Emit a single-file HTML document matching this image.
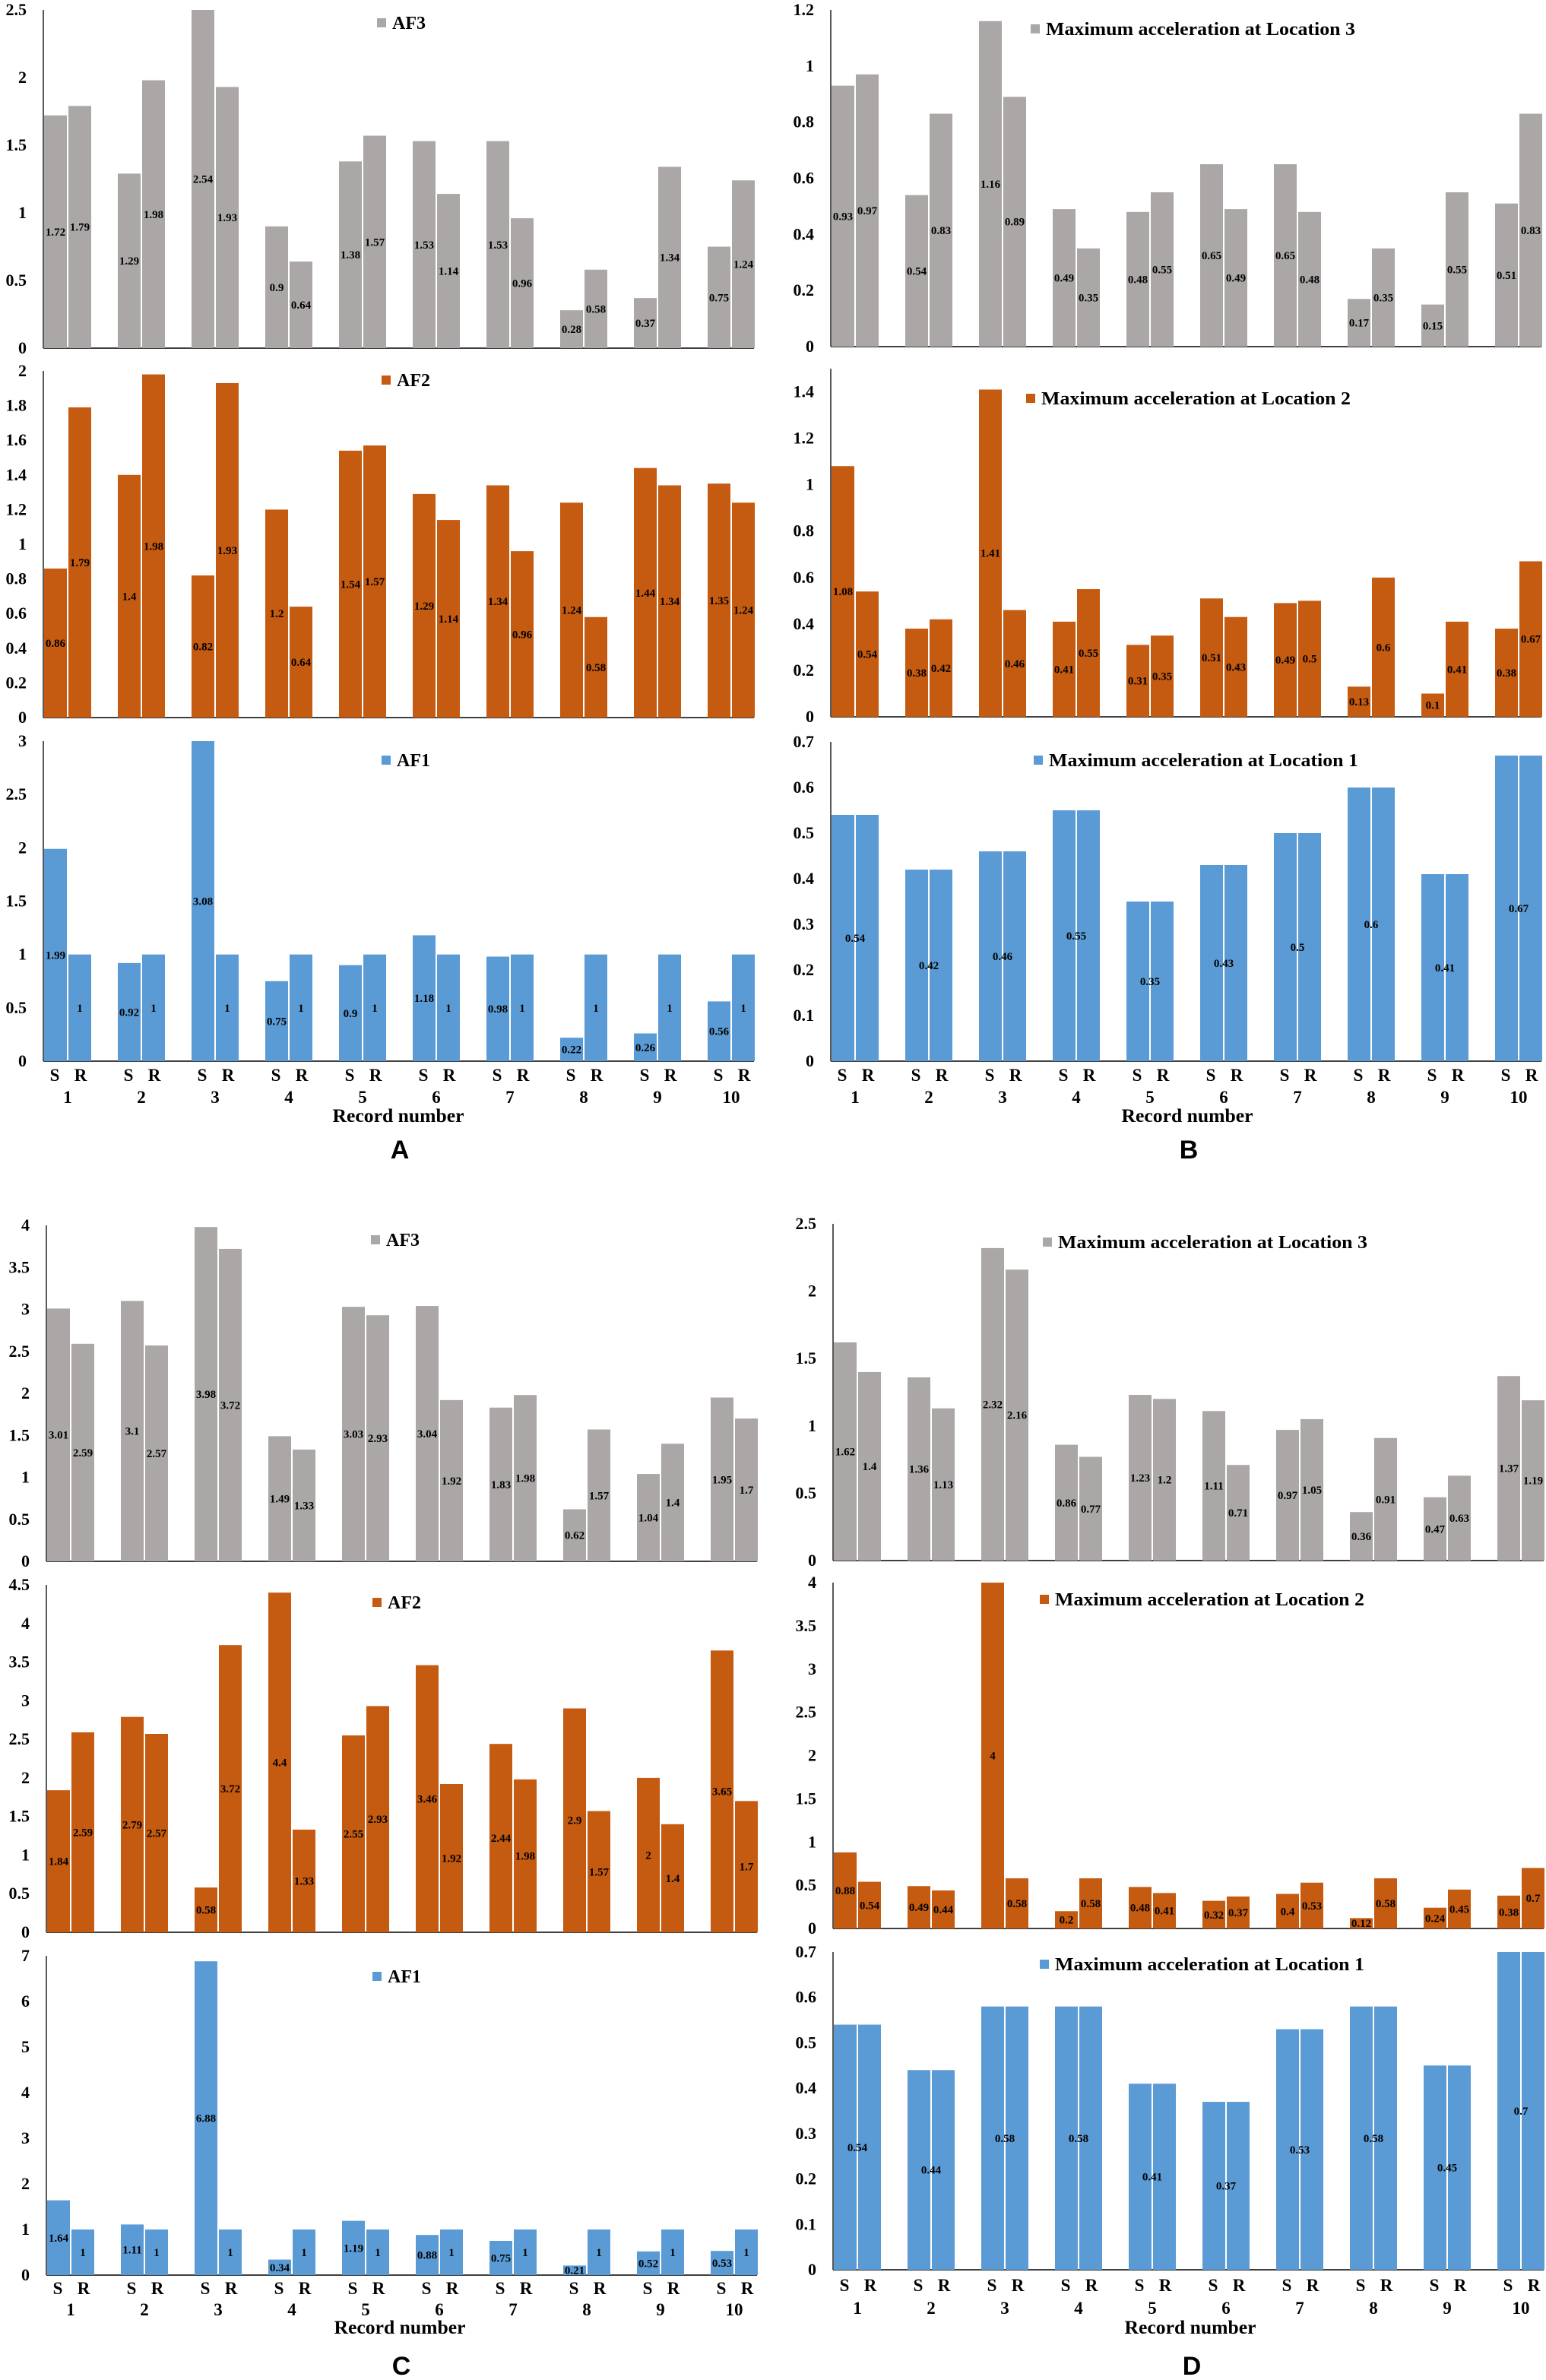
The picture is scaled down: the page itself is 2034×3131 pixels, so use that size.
<!DOCTYPE html>
<html><head><meta charset="utf-8"><style>
html,body{margin:0;padding:0;background:#fff}
svg{display:block}
text{font-family:"Liberation Serif",serif;font-weight:bold;fill:#000}
</style></head><body>
<svg id="fig" width="2034" height="3131" viewBox="0 0 2034 3131" xmlns="http://www.w3.org/2000/svg"></svg>
<script>
// ---- data ----
const categories = ["1","2","3","4","5","6","7","8","9","10"];
const A_AF3_S = [1.72,1.29,2.54,0.9,1.38,1.53,1.53,0.28,0.37,0.75];
const A_AF3_R = [1.79,1.98,1.93,0.64,1.57,1.14,0.96,0.58,1.34,1.24];
const A_AF2_S = [0.86,1.4,0.82,1.2,1.54,1.29,1.34,1.24,1.44,1.35];
const A_AF2_R = [1.79,1.98,1.93,0.64,1.57,1.14,0.96,0.58,1.34,1.24];
const A_AF1_S = [1.99,0.92,3.08,0.75,0.9,1.18,0.98,0.22,0.26,0.56];
const A_AF1_R = [1,1,1,1,1,1,1,1,1,1];
const B_L3_S = [0.93,0.54,1.16,0.49,0.48,0.65,0.65,0.17,0.15,0.51];
const B_L3_R = [0.97,0.83,0.89,0.35,0.55,0.49,0.48,0.35,0.55,0.83];
const B_L2_S = [1.08,0.38,1.41,0.41,0.31,0.51,0.49,0.13,0.1,0.38];
const B_L2_R = [0.54,0.42,0.46,0.55,0.35,0.43,0.5,0.6,0.41,0.67];
const B_L1 = [0.54,0.42,0.46,0.55,0.35,0.43,0.5,0.6,0.41,0.67];
const C_AF3_S = [3.01,3.1,3.98,1.49,3.03,3.04,1.83,0.62,1.04,1.95];
const C_AF3_R = [2.59,2.57,3.72,1.33,2.93,1.92,1.98,1.57,1.4,1.7];
const C_AF2_S = [1.84,2.79,0.58,4.4,2.55,3.46,2.44,2.9,2,3.65];
const C_AF2_R = [2.59,2.57,3.72,1.33,2.93,1.92,1.98,1.57,1.4,1.7];
const C_AF1_S = [1.64,1.11,6.88,0.34,1.19,0.88,0.75,0.21,0.52,0.53];
const C_AF1_R = [1,1,1,1,1,1,1,1,1,1];
const D_L3_S = [1.62,1.36,2.32,0.86,1.23,1.11,0.97,0.36,0.47,1.37];
const D_L3_R = [1.4,1.13,2.16,0.77,1.2,0.71,1.05,0.91,0.63,1.19];
const D_L2_S = [0.88,0.49,4,0.2,0.48,0.32,0.4,0.12,0.24,0.38];
const D_L2_R = [0.54,0.44,0.58,0.58,0.41,0.37,0.53,0.58,0.45,0.7];
const D_L1 = [0.54,0.44,0.58,0.58,0.41,0.37,0.53,0.58,0.45,0.7];
const ticks_0_25_05 = ["0","0.5","1","1.5","2","2.5"];
const ticks_0_2_02 = ["0","0.2","0.4","0.6","0.8","1","1.2","1.4","1.6","1.8","2"];
const ticks_0_3_05 = ["0","0.5","1","1.5","2","2.5","3"];
const ticks_0_12_02 = ["0","0.2","0.4","0.6","0.8","1","1.2"];
const ticks_0_14_02 = ["0","0.2","0.4","0.6","0.8","1","1.2","1.4"];
const ticks_0_07_01 = ["0","0.1","0.2","0.3","0.4","0.5","0.6","0.7"];
const ticks_0_4_05 = ["0","0.5","1","1.5","2","2.5","3","3.5","4"];
const ticks_0_45_05 = ["0","0.5","1","1.5","2","2.5","3","3.5","4","4.5"];
const ticks_0_7_1 = ["0","1","2","3","4","5","6","7"];

const GRAY="#aaa7a6", ORANGE="#c55a11", BLUE="#5b9bd5";
const NS="http://www.w3.org/2000/svg";
const svg=document.getElementById('fig');
function mk(tag,attrs,parent){const e=document.createElementNS(NS,tag);for(const k in attrs)e.setAttribute(k,attrs[k]);(parent||svg).appendChild(e);return e;}

function subplot(cfg){
  const g=mk('g',{});
  
  
  const x0=cfg.x0, pitch=97, bw=30, gap=2;
  const yS=v=>cfg.y0-(Math.min(v,cfg.max)/cfg.max)*(cfg.y0-cfg.yTop);
  const ya=mk('line',{x1:x0,y1:cfg.yAxisTop||cfg.yTop,x2:x0,y2:cfg.y0,stroke:"#595959","stroke-width":2},g);
  
  
  const xa=mk('line',{x1:x0,y1:cfg.y0,x2:x0+62+9*pitch,y2:cfg.y0,stroke:"#404040","stroke-width":2},g);
  
  
  const tmax=cfg.tickMax;
  cfg.ticks.forEach((t,i)=>{
    const v=tmax*i/(cfg.ticks.length-1);
    const tt=mk('text',{x:x0-22,y:yS(v)+7,"text-anchor":"end","font-size":22},g);
    tt.textContent=t;
    
    
  });
  categories.forEach((c,i)=>{
    const gx=x0+1+i*pitch;
    if(cfg.single){
      const v=cfg.single[i];
      [0,1].forEach(k=>{
        const r=mk('rect',{x:gx+k*(bw+gap),y:yS(v),width:bw,height:cfg.y0-yS(v),fill:cfg.color},g);
        
        
      });
      const lt=mk('text',{x:gx+bw+1,y:(yS(v)+cfg.y0)/2+5,"text-anchor":"middle","font-size":15},g);
      lt.textContent=String(v);
      
      
    } else {
      [cfg.s[i],cfg.r[i]].forEach((v,k)=>{
        const bx=gx+k*(bw+gap);
        const r=mk('rect',{x:bx,y:yS(v),width:bw,height:cfg.y0-yS(v),fill:cfg.color},g);
        
        
        const lt=mk('text',{x:bx+bw/2,y:(yS(v)+cfg.y0)/2+5,"text-anchor":"middle","font-size":15},g);
        lt.textContent=String(v);
        
        
      });
    }
  });
  const ls=mk('rect',{x:cfg.lx,y:cfg.ly-6,width:12,height:12,fill:cfg.color},g);
  
  
  const lt=mk('text',{x:cfg.lx+20,y:cfg.ly+8,"font-size":24},g);
  if(cfg.lw){ lt.setAttribute('textLength',cfg.lw); lt.setAttribute('lengthAdjust','spacingAndGlyphs'); }
  lt.textContent=cfg.label;
  
  
}
function xlabels(x0,yS,yN,yT,yL,letter,lx){
  categories.forEach((c,i)=>{
    const gx=x0+1+i*97;
    const s=mk('text',{x:gx+14,y:yS,"text-anchor":"middle","font-size":23});s.textContent="S";
    
    
    const r=mk('text',{x:gx+48,y:yS,"text-anchor":"middle","font-size":23});r.textContent="R";
    
    
    const n=mk('text',{x:gx+31,y:yN,"text-anchor":"middle","font-size":23});n.textContent=c;
    
    
  });
  const t=mk('text',{x:lx,y:yT,"text-anchor":"middle","font-size":25,textLength:173,lengthAdjust:"spacingAndGlyphs"});t.textContent="Record number";
  
  
  const L=mk('text',{x:lx+2,y:yL,"text-anchor":"middle","font-size":34,style:"font-family:'Liberation Sans',sans-serif"});L.textContent=letter;
  
  
}
// Panel A
subplot({name:'a-af3-chart',x0:57,yTop:13,y0:458,max:2.5,tickMax:2.5,ticks:ticks_0_25_05,color:GRAY,s:A_AF3_S,r:A_AF3_R,lx:496,ly:30,label:"AF3"});
subplot({name:'a-af2-chart',x0:57,yTop:488,y0:944,max:2,tickMax:2,ticks:ticks_0_2_02,color:ORANGE,s:A_AF2_S,r:A_AF2_R,lx:502,ly:500,label:"AF2"});
subplot({name:'a-af1-chart',x0:57,yTop:975,y0:1396,max:3,tickMax:3,ticks:ticks_0_3_05,color:BLUE,s:A_AF1_S,r:A_AF1_R,lx:502,ly:1000,label:"AF1"});
xlabels(57,1422,1451,1476,1524,"A",524);
// Panel B
subplot({name:'b-location3-chart',x0:1093,yTop:13,y0:456,max:1.2,tickMax:1.2,ticks:ticks_0_12_02,color:GRAY,s:B_L3_S,r:B_L3_R,lx:1356,ly:38,label:"Maximum acceleration at Location 3",lw:407});
subplot({name:'b-location2-chart',x0:1093,yTop:485,yAxisTop:485,y0:943,max:1.5,tickMax:1.4,ticks:ticks_0_14_02,color:ORANGE,s:B_L2_S,r:B_L2_R,lx:1350,ly:524,label:"Maximum acceleration at Location 2",lw:407});
subplot({name:'b-location1-chart',x0:1093,yTop:976,y0:1396,max:0.7,tickMax:0.7,ticks:ticks_0_07_01,color:BLUE,single:B_L1,lx:1360,ly:1000,label:"Maximum acceleration at Location 1",lw:407});
xlabels(1093,1422,1451,1476,1524,"B",1562);
// Panel C
subplot({name:'c-af3-chart',x0:61,yTop:1612,y0:2054,max:4,tickMax:4,ticks:ticks_0_4_05,color:GRAY,s:C_AF3_S,r:C_AF3_R,lx:488,ly:1631,label:"AF3"});
subplot({name:'c-af2-chart',x0:61,yTop:2085,y0:2542,max:4.5,tickMax:4.5,ticks:ticks_0_45_05,color:ORANGE,s:C_AF2_S,r:C_AF2_R,lx:490,ly:2108,label:"AF2"});
subplot({name:'c-af1-chart',x0:61,yTop:2573,y0:2993,max:7,tickMax:7,ticks:ticks_0_7_1,color:BLUE,s:C_AF1_S,r:C_AF1_R,lx:490,ly:2600,label:"AF1"});
xlabels(61,3018,3046,3070,3124,"C",526);
// Panel D
subplot({name:'d-location3-chart',x0:1096,yTop:1610,y0:2053,max:2.5,tickMax:2.5,ticks:ticks_0_25_05,color:GRAY,s:D_L3_S,r:D_L3_R,lx:1372,ly:1634,label:"Maximum acceleration at Location 3",lw:407});
subplot({name:'d-location2-chart',x0:1096,yTop:2082,y0:2537,max:4,tickMax:4,ticks:ticks_0_4_05,color:ORANGE,s:D_L2_S,r:D_L2_R,lx:1368,ly:2104,label:"Maximum acceleration at Location 2",lw:407});
subplot({name:'d-location1-chart',x0:1096,yTop:2568,y0:2986,max:0.7,tickMax:0.7,ticks:ticks_0_07_01,color:BLUE,single:D_L1,lx:1368,ly:2584,label:"Maximum acceleration at Location 1",lw:407});
xlabels(1096,3014,3044,3070,3124,"D",1566);
</script>
</body></html>
